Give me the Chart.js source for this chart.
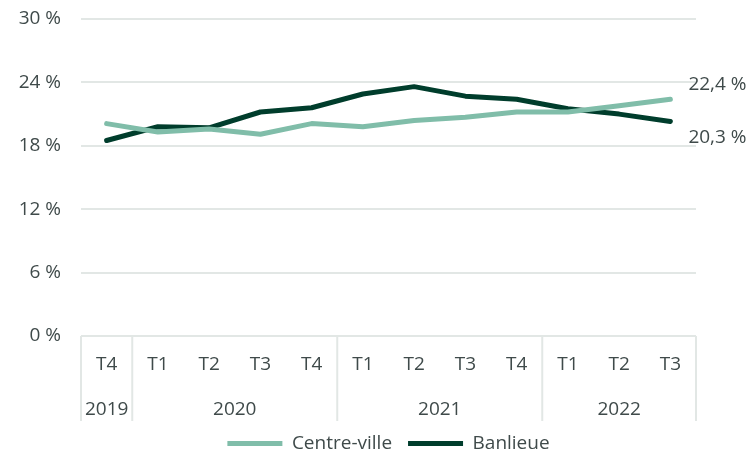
<!DOCTYPE html>
<html lang="fr">
<head>
  <meta charset="UTF-8">
  <title>Centre-ville / Banlieue</title>
  <script src="https://cdn.jsdelivr.net/npm/chart.js"></script>
  <style>
    body {
      margin: 0;
      padding: 0;
      background: #ffffff;
    }
    #graphique {
      display: block;
    }
  </style>
</head>
<body>
  <canvas id="graphique" width="751" height="453"></canvas>

  <script>
    // donnees
    const trimestres = ['T4', 'T1', 'T2', 'T3', 'T4', 'T1', 'T2', 'T3', 'T4', 'T1', 'T2', 'T3'];
    const annees = ['2019', '2020', '2020', '2020', '2020', '2021', '2021', '2021', '2021', '2022', '2022', '2022'];
    const centreVille = [20.1, 19.3, 19.6, 19.1, 20.1, 19.8, 20.4, 20.7, 21.2, 21.2, 21.8, 22.4];
    const banlieue = [18.5, 19.8, 19.7, 21.2, 21.6, 22.9, 23.6, 22.7, 22.4, 21.5, 21.0, 20.3];
    const ticksY = [0, 6, 12, 18, 24, 30];

    const cores = {
      clair: '#80bda9',
      fonce: '#003d2c',
      texte: '#3f4a4a',
      grade: '#e2e7e5'
    };
    const police = { family: '"Open Sans", sans-serif', size: 19 };

    const fmt = v => v.toFixed(1).replace('.', ',') + ' %';

    // annees + separateurs sous l'axe x
    const groupesAnnees = {
      id: 'groupesAnnees',
      afterDraw(chart) {
        const ctx = chart.ctx;
        const x = chart.scales.x;
        const bas = chart.chartArea.bottom;
        const demi = (x.getPixelForValue(1) - x.getPixelForValue(0)) / 2;
        ctx.save();
        ctx.strokeStyle = cores.grade;
        ctx.lineWidth = 2;
        ctx.fillStyle = cores.texte;
        ctx.font = police.size + 'px ' + police.family;
        ctx.textAlign = 'center';
        ctx.textBaseline = 'middle';
        let debut = 0;
        for (let i = 1; i <= annees.length; i++) {
          if (i === annees.length || annees[i] !== annees[debut]) {
            const g = x.getPixelForValue(debut) - demi;
            const d = x.getPixelForValue(i - 1) + demi;
            ctx.beginPath();
            ctx.moveTo(g, bas);
            ctx.lineTo(g, bas + 85);
            ctx.stroke();
            if (i === annees.length) {
              ctx.beginPath();
              ctx.moveTo(d, bas);
              ctx.lineTo(d, bas + 85);
              ctx.stroke();
            }
            ctx.fillText(annees[debut], (g + d) / 2, bas + 74);
            debut = i;
          }
        }
        ctx.restore();
      }
    };

    // valeurs a la fin des courbes
    const etiquettesFin = {
      id: 'etiquettesFin',
      afterDatasetsDraw(chart) {
        const ctx = chart.ctx;
        ctx.save();
        ctx.fillStyle = cores.texte;
        ctx.font = police.size + 'px ' + police.family;
        ctx.textAlign = 'left';
        ctx.textBaseline = 'middle';
        chart.data.datasets.forEach((ds, i) => {
          const pts = chart.getDatasetMeta(i).data;
          const p = pts[pts.length - 1];
          const dy = i === 0 ? -15 : 16;
          ctx.fillText(fmt(ds.data[ds.data.length - 1]), p.x + 18, p.y + dy);
        });
        ctx.restore();
      }
    };

    new Chart(document.getElementById('graphique'), {
      type: 'line',
      data: {
        labels: trimestres,
        datasets: [
          {
            label: 'Centre-ville',
            data: centreVille,
            borderColor: cores.clair,
            backgroundColor: cores.clair,
            borderWidth: 5,
            pointRadius: 0,
            borderCapStyle: 'round',
            borderJoinStyle: 'round',
            tension: 0
          },
          {
            label: 'Banlieue',
            data: banlieue,
            borderColor: cores.fonce,
            backgroundColor: cores.fonce,
            borderWidth: 5,
            pointRadius: 0,
            borderCapStyle: 'round',
            borderJoinStyle: 'round',
            tension: 0
          }
        ]
      },
      options: {
        responsive: false,
        animation: false,
        layout: {
          padding: { top: 19, right: 55, left: 0, bottom: -10 }
        },
        plugins: {
          tooltip: { enabled: false },
          legend: {
            position: 'bottom',
            fullSize: false,
            labels: {
              color: cores.texte,
              font: police,
              usePointStyle: true,
              pointStyle: 'line',
              pointStyleWidth: 55,
              boxHeight: 5,
              padding: 16
            }
          }
        },
        scales: {
          x: {
            offset: true,
            grid: { display: false },
            border: { display: false },
            ticks: {
              color: cores.texte,
              font: police,
              padding: 9,
              maxRotation: 0,
              autoSkip: false
            },
            afterFit(scale) {
              scale.height = 82;
            }
          },
          y: {
            min: 0,
            max: 30,
            afterBuildTicks(scale) {
              scale.ticks = ticksY.map(v => ({ value: v }));
            },
            grid: { color: cores.grade, lineWidth: 2, drawTicks: false },
            border: { display: false },
            ticks: {
              color: cores.texte,
              font: police,
              padding: 20,
              callback: v => v + ' %'
            },
            afterFit(scale) {
              scale.width = 81;
              scale.paddingTop = 0;
              scale.paddingBottom = 0;
            }
          }
        }
      },
      plugins: [groupesAnnees, etiquettesFin]
    });
  </script>
</body>
</html>
